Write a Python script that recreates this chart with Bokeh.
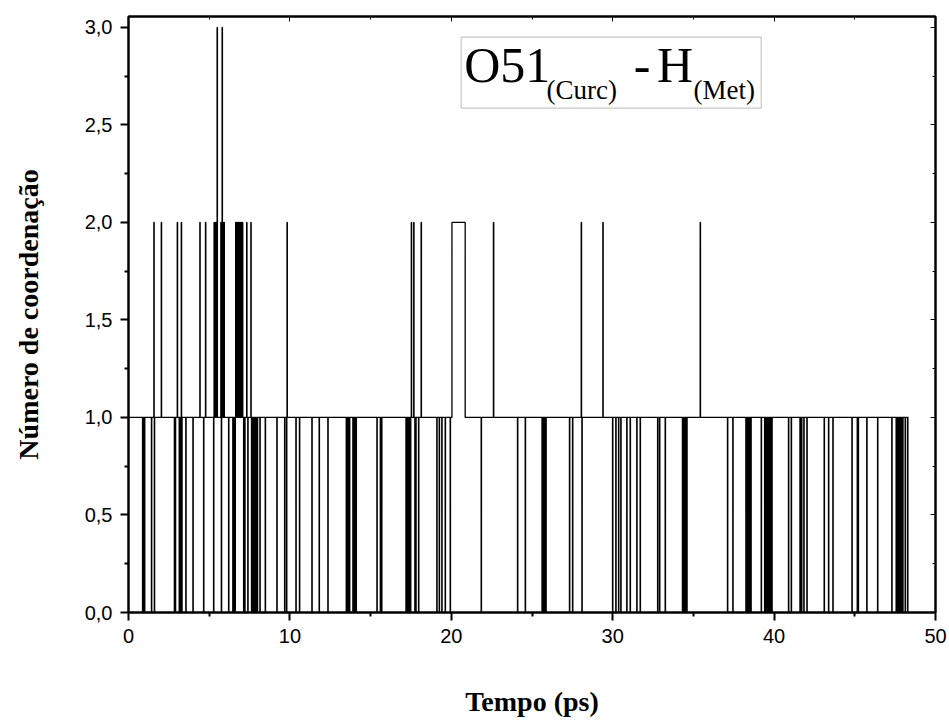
from bokeh.plotting import figure
from bokeh.models import Range1d, FixedTicker, LinearAxis, CustomJSTickFormatter, Label, BoxAnnotation
from bokeh.embed import file_html
from bokeh.resources import INLINE

# ---- data ----
# baseline coordination number is 1; brief excursions listed by time (ps)
dip0_times = [0.87, 0.93, 0.99, 1.42, 1.60, 2.84, 2.90, 3.14, 3.21, 3.30, 3.55, 3.99,
              4.65, 5.27, 5.75, 6.20, 6.46, 6.53, 6.60, 7.13, 7.20, 7.39,
              7.62, 7.68, 7.74, 7.80, 7.86, 7.92, 7.98, 8.14, 8.47, 9.19, 9.67, 9.79,
              10.37, 10.59, 11.36, 11.81, 12.35,
              13.49, 13.55, 13.62, 13.69, 13.90, 13.96, 14.03, 14.10,
              15.39, 15.60, 15.68, 17.19, 17.26, 17.33, 17.40, 17.47,
              17.74, 17.80, 17.97, 19.10, 19.25, 19.41, 19.62, 19.93,
              21.85, 24.10, 24.58, 25.62, 25.70, 25.78, 25.86,
              27.32, 27.51, 28.09, 29.99, 30.19, 30.36, 30.50,
              30.87, 31.08, 31.49, 31.70, 32.78, 32.90, 33.25,
              34.32, 34.39, 34.46, 34.53, 34.59, 37.11, 37.44,
              38.25, 38.32, 38.40, 38.48, 38.56, 39.20,
              39.41, 39.48, 39.56, 39.63, 39.71, 39.79, 39.86,
              40.89, 41.06, 41.60, 41.70, 41.84, 42.03,
              43.10, 43.37, 43.64, 44.82, 45.15, 45.21, 45.74, 46.41,
              47.29, 47.56, 47.63, 47.70, 47.77, 47.84, 47.91, 47.97,
              48.12, 48.27]
spike2_times = [1.57, 2.03, 3.02, 3.27, 4.42, 4.77, 5.30, 5.38, 5.44, 5.72, 5.86, 5.92,
                6.64, 6.70, 6.76, 6.82, 6.88, 6.94, 7.00, 7.06, 7.32, 7.58, 9.82,
                17.52, 17.67, 18.13, 22.61, 28.05, 29.39, 35.42]
spike3_times = [5.49, 5.80]
plateau2_start = [20.04]
plateau2_end = [20.86]
sample_dt = 0.02
t_end = 48.33

x_ticks = [0, 10, 20, 30, 40, 50]
x_minor = [5, 15, 25, 35, 45]
y_ticks = [0.0, 0.5, 1.0, 1.5, 2.0, 2.5, 3.0]
y_minor = [0.25, 0.75, 1.25, 1.75, 2.25, 2.75]

# ---- build the step series ----
events = [(t, 0, t + sample_dt) for t in dip0_times]
events += [(t, 2, t + sample_dt) for t in spike2_times]
events += [(t, 3, t + sample_dt) for t in spike3_times]
events += [(s, 2, e) for s, e in zip(plateau2_start, plateau2_end)]
events.sort()
t_pts = [0.0]
n_pts = [1]
for s, lv, e in events:
    t_pts += [s, e]
    n_pts += [lv, 1]
t_pts.append(t_end)
n_pts.append(1)

p = figure(width=949, height=724, x_range=Range1d(0, 50), y_range=Range1d(0, 3.056),
           output_backend="svg", toolbar_location=None,
           min_border_left=128, min_border_right=14, min_border_top=16, min_border_bottom=112)
p.background_fill_color = "white"
p.border_fill_color = "white"
p.xgrid.visible = False
p.ygrid.visible = False
p.outline_line_color = "black"
p.outline_line_width = 2

p.step(t_pts, n_pts, mode="after", line_color="black", line_width=1.3)

fmt = CustomJSTickFormatter(code="return tick.toFixed(1).replace('.', ',');")

for ax, ticks, minor in ((p.xaxis[0], x_ticks, x_minor), (p.yaxis[0], y_ticks, y_minor)):
    ax.ticker = FixedTicker(ticks=ticks, minor_ticks=minor)
    ax.axis_line_width = 2
    ax.major_tick_line_width = 2
    ax.minor_tick_line_width = 2
    ax.major_tick_out = 8
    ax.major_tick_in = 0
    ax.minor_tick_out = 4
    ax.minor_tick_in = 0
    ax.major_label_text_font = "Liberation Sans"
    ax.major_label_text_font_size = "20px"
    ax.major_label_text_color = "black"
    ax.major_label_standoff = 8
    ax.axis_label_text_font = "Liberation Serif"
    ax.axis_label_text_font_style = "bold"
    ax.axis_label_text_font_size = "28px"
    ax.axis_label_text_color = "black"

p.yaxis[0].formatter = fmt
p.xaxis[0].axis_label = "Tempo (ps)"
p.xaxis[0].axis_label_standoff = 40
p.yaxis[0].axis_label = "Número de coordenação"
p.yaxis[0].axis_label_standoff = 38

blank = CustomJSTickFormatter(code="return '';")
for loc, ticks, minor in (("above", x_ticks, x_minor), ("right", y_ticks, y_minor)):
    a = LinearAxis(ticker=FixedTicker(ticks=ticks, minor_ticks=minor), formatter=blank)
    a.axis_line_width = 2
    a.major_tick_in = 5
    a.major_tick_out = 0
    a.minor_tick_in = 3
    a.minor_tick_out = 0
    a.major_tick_line_width = 1
    a.minor_tick_line_width = 1
    a.major_label_standoff = 0
    p.add_layout(a, loc)

# annotation box
p.add_layout(BoxAnnotation(left=20.61, right=39.20, bottom=2.586, top=2.950,
                           fill_color="white", fill_alpha=1.0,
                           line_color="#444444", line_width=1.2))
serif = "Liberation Serif"
for txt, x, y, size in (("O51", 20.80, 2.805, "50px"), ("(Curc)", 25.90, 2.680, "27px"),
                        ("-", 31.30, 2.805, "50px"), ("H", 32.75, 2.805, "50px"),
                        ("(Met)", 35.00, 2.680, "27px")):
    p.add_layout(Label(x=x, y=y, text=txt, text_font=serif, text_font_size=size,
                       text_color="black", text_baseline="alphabetic", text_align="left"))

open("out.html", "w").write(file_html(p, INLINE))
